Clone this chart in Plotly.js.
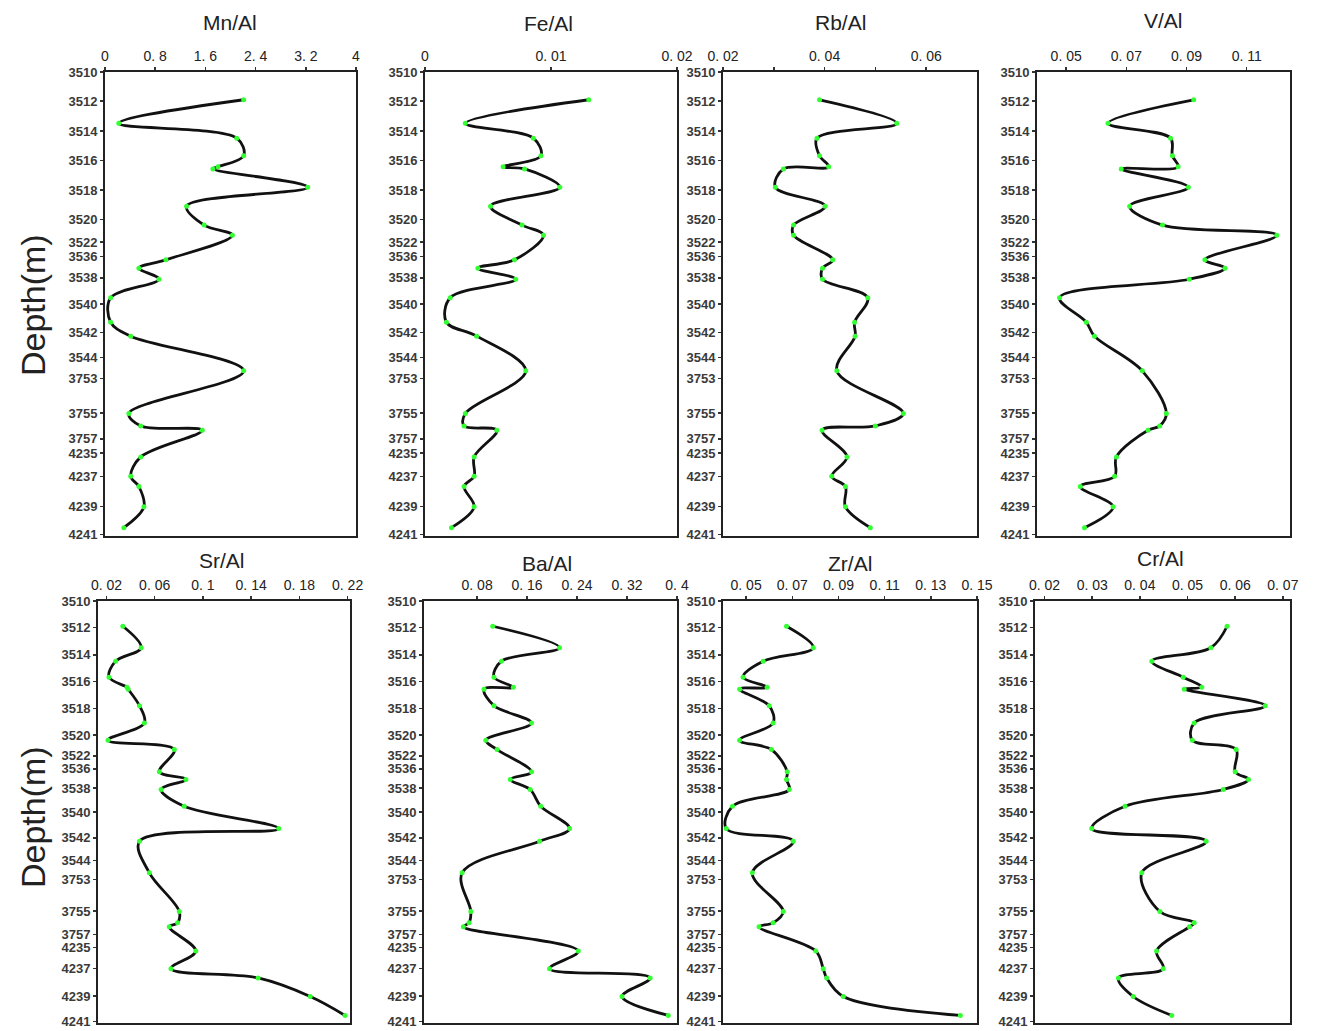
<!DOCTYPE html>
<html><head><meta charset="utf-8">
<script src="https://cdn.plot.ly/plotly-3.0.1.min.js"></script>
<style>html,body{margin:0;padding:0;background:#fff;} #chart{width:1320px;height:1031px;}</style>
</head><body><div id="chart"></div>
<script>
// Depth axis (irregular, labels as printed) and sample positions on it
const depthLabels = ['3510','3512','3514','3516','3518','3520','3522','3536','3538','3540','3542','3544','3753','3755','3757','4235','4237','4239','4241'];
const depthTickPos = [0, 6.3, 12.8, 19.1, 25.5, 31.9, 36.8, 39.9, 44.5, 50.2, 56.3, 61.7, 66.2, 73.7, 79.3, 82.4, 87.4, 93.9, 100];
const samplePos = [6.0, 11.1, 14.3, 18.1, 20.5, 20.95, 24.9, 29.0, 33.1, 35.3, 40.6, 42.4, 44.8, 48.8, 54.1, 57.1, 64.6, 73.8, 76.5, 77.45, 83.2, 87.4, 89.6, 94.0, 98.5];

// Element ratios
const mnAl = [2.21, 0.22, 2.10, 2.21, 1.80, 1.72, 3.23, 1.30, 1.58, 2.03, 0.97, 0.54, 0.86, 0.09, 0.09, 0.41, 2.21, 0.38, 0.57, 1.55, 0.57, 0.41, 0.54, 0.62, 0.30];
const feAl = [0.0130, 0.0032, 0.0086, 0.0092, 0.0062, 0.0079, 0.0107, 0.0052, 0.0077, 0.0094, 0.0071, 0.0042, 0.0072, 0.0020, 0.0017, 0.0041, 0.0080, 0.0032, 0.0031, 0.0057, 0.0039, 0.0039, 0.0031, 0.0039, 0.0021];
const rbAl = [0.0390, 0.0542, 0.0385, 0.0390, 0.0408, 0.0319, 0.0303, 0.0401, 0.0339, 0.0339, 0.0416, 0.0396, 0.0396, 0.0485, 0.0459, 0.0460, 0.0424, 0.0555, 0.0500, 0.0395, 0.0444, 0.0414, 0.0441, 0.0441, 0.0490];
const vAl  = [0.0924, 0.0639, 0.0847, 0.0853, 0.0872, 0.0683, 0.0906, 0.0711, 0.0820, 0.1200, 0.0961, 0.1028, 0.0909, 0.0478, 0.0567, 0.0594, 0.0753, 0.0833, 0.0811, 0.0772, 0.0667, 0.0661, 0.0547, 0.0656, 0.0561];
const srAl = [0.0336, 0.0488, 0.0276, 0.0221, 0.0370, 0.0380, 0.0474, 0.0515, 0.0213, 0.0763, 0.0639, 0.0859, 0.0653, 0.0845, 0.1629, 0.0474, 0.0556, 0.0804, 0.0790, 0.0721, 0.0941, 0.0735, 0.1458, 0.1890, 0.2179];
const baAl = [0.105, 0.212, 0.119, 0.107, 0.138, 0.091, 0.107, 0.167, 0.094, 0.112, 0.167, 0.133, 0.165, 0.182, 0.228, 0.180, 0.056, 0.070, 0.067, 0.058, 0.242, 0.196, 0.357, 0.312, 0.386];
const zrAl = [0.0675, 0.0791, 0.0574, 0.0487, 0.0591, 0.0472, 0.0600, 0.0617, 0.0472, 0.0610, 0.0678, 0.0675, 0.0687, 0.0441, 0.0414, 0.0704, 0.0527, 0.0661, 0.0617, 0.0556, 0.0802, 0.0834, 0.0849, 0.0921, 0.1428];
const crAl = [0.0583, 0.0549, 0.0425, 0.0491, 0.0530, 0.0493, 0.0663, 0.0514, 0.0510, 0.0602, 0.0600, 0.0628, 0.0575, 0.0369, 0.0299, 0.0539, 0.0404, 0.0442, 0.0514, 0.0504, 0.0435, 0.0449, 0.0355, 0.0386, 0.0467];

const panelTitles = ['Mn/Al','Fe/Al','Rb/Al','V/Al','Sr/Al','Ba/Al','Zr/Al','Cr/Al'];
const panelSeries = [mnAl, feAl, rbAl, vAl, srAl, baAl, zrAl, crAl];

// x-axis tick labels per panel
const xTickVals = [
  [0, 0.8, 1.6, 2.4, 3.2, 4],
  [0, 0.01, 0.02],
  [0.02, 0.03, 0.04, 0.05, 0.06],
  [0.05, 0.07, 0.09, 0.11],
  [0.02, 0.06, 0.1, 0.14, 0.18, 0.22],
  [0.08, 0.16, 0.24, 0.32, 0.4],
  [0.05, 0.07, 0.09, 0.11, 0.13, 0.15],
  [0.02, 0.03, 0.04, 0.05, 0.06, 0.07]
];
const xTickText = [
  ['0','0. 8','1. 6','2. 4','3. 2','4'],
  ['0','0. 01','0. 02'],
  ['0. 02','','0. 04','','0. 06'],
  ['0. 05','0. 07','0. 09','0. 11'],
  ['0. 02','0. 06','0. 1','0. 14','0. 18','0. 22'],
  ['0. 08','0. 16','0. 24','0. 32','0. 4'],
  ['0. 05','0. 07','0. 09','0. 11','0. 13','0. 15'],
  ['0. 02','0. 03','0. 04','0. 05','0. 06','0. 07']
];
const xRanges = [[0,4],[0,0.02],[0.02,0.07],[0.0403,0.1244],[0.013,0.222],[-0.005,0.4],[0.04,0.15],[0.018,0.0715]];

// ---- layout geometry (pixels of the 1320x1031 page) ----
const W = 1320, H = 1031;
const boxes = [
  [105,356,72,536],[425,677,72,536],[723,977,72,536],[1037,1290,72,536],
  [98,350,601,1023],[424,677,601,1023],[723,977,601,1023],[1035,1290,601,1023]
];
const titlePos = [[230,22],[548,24],[840,22],[1163,20],[222,560],[547,563],[850,563],[1160,558]];

const data = [];
const layout = {
  width: W, height: H,
  margin: {l:0, r:0, t:0, b:0},
  paper_bgcolor: '#fff', plot_bgcolor: '#fff',
  showlegend: false,
  annotations: [],
  font: {family: 'Liberation Sans, Arial, sans-serif', color: '#222'}
};

panelSeries.forEach((vals, i) => {
  const n = i + 1;
  const sfx = (n === 1 ? '' : String(n));
  const b = boxes[i];
  data.push({
    x: vals, y: samplePos,
    xaxis: 'x' + sfx, yaxis: 'y' + sfx,
    type: 'scatter', mode: 'lines+markers',
    line: {shape: 'spline', smoothing: 1, color: '#111', width: 2.8},
    marker: {color: '#33ff33', size: 5, symbol: 'circle'},
    hoverinfo: 'skip'
  });
  layout['xaxis' + sfx] = {
    domain: [b[0]/W, b[1]/W],
    anchor: 'y' + sfx,
    side: 'top',
    range: xRanges[i],
    tickmode: 'array', tickvals: xTickVals[i], ticktext: xTickText[i],
    ticks: 'outside', ticklen: 3, tickwidth: 1.5, tickcolor: '#333',
    tickfont: {family: 'Liberation Sans, Arial, sans-serif', size: 14, color: '#222'},
    showline: true, linecolor: '#222', linewidth: 2, mirror: true,
    showgrid: false, zeroline: false
  };
  layout['yaxis' + sfx] = {
    domain: [1 - b[3]/H, 1 - b[2]/H],
    anchor: 'x' + sfx,
    range: [100.3, 0],
    tickmode: 'array', tickvals: depthTickPos, ticktext: depthLabels,
    ticks: 'outside', ticklen: 3, tickwidth: 1.5, tickcolor: '#333',
    tickfont: {family: 'Liberation Sans Narrow, Liberation Sans, Arial, sans-serif', size: 13, color: '#3a3a3a', weight: 'bold'},
    showline: true, linecolor: '#222', linewidth: 2, mirror: true,
    showgrid: false, zeroline: false
  };
  layout.annotations.push({
    text: panelTitles[i], xref: 'paper', yref: 'paper',
    x: titlePos[i][0]/W, y: 1 - titlePos[i][1]/H,
    xanchor: 'center', yanchor: 'middle', showarrow: false,
    font: {family: 'Liberation Sans, Arial, sans-serif', size: 21, color: '#222'}
  });
});

[[33,305],[33,817]].forEach(p => {
  layout.annotations.push({
    text: 'Depth(m)', xref: 'paper', yref: 'paper',
    x: p[0]/W, y: 1 - p[1]/H, xanchor: 'center', yanchor: 'middle',
    textangle: -90, showarrow: false,
    font: {family: 'Liberation Sans, Arial, sans-serif', size: 34, color: '#222'}
  });
});

Plotly.newPlot('chart', data, layout, {displayModeBar: false, staticPlot: true});
</script>
</body></html>
